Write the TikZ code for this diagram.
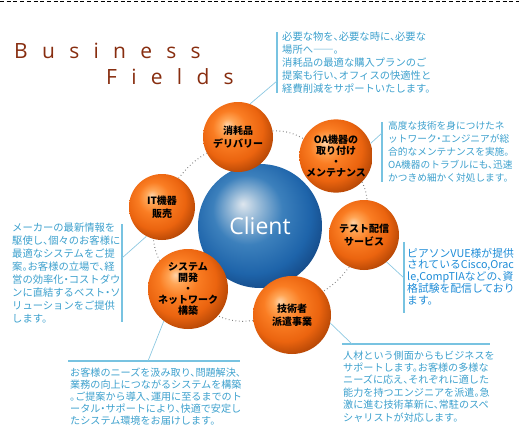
\documentclass[tikz,border=0pt]{standalone}
\usepackage{fontspec}
\usepackage{tikz}
\usetikzlibrary{positioning}
\setmainfont{Open Sans}
\newfontfamily\cjk[CharacterWidth=AlternateHalf]{Noto Sans CJK JP}
\newfontfamily\cjkplain{Noto Sans CJK JP}
\newfontfamily\titlefont[LetterSpace=68]{Open Sans}

\definecolor{titlebrown}{RGB}{135,45,15}
\definecolor{txtblue}{RGB}{60,160,205}
\definecolor{vueblue}{RGB}{30,140,215}
\definecolor{barblue}{RGB}{120,195,225}
\definecolor{leadblue}{RGB}{140,200,225}
\definecolor{orhi}{RGB}{255,210,165}
\definecolor{orlt}{RGB}{255,165,85}
\definecolor{ormain}{RGB}{250,125,35}
\definecolor{ormid}{RGB}{235,100,15}
\definecolor{ordk}{RGB}{180,70,5}
\definecolor{ordeep}{RGB}{110,40,5}
\definecolor{blhi}{RGB}{222,230,238}
\definecolor{bllt}{RGB}{150,185,215}
\definecolor{blmain}{RGB}{60,128,188}
\definecolor{blmid}{RGB}{30,100,170}
\definecolor{bldk}{RGB}{20,70,130}
\definecolor{bldeep}{RGB}{10,45,95}

\pgfdeclareradialshading{orangeball}{\pgfpoint{-8bp}{9bp}}{color(0bp)=(orhi); color(5bp)=(orlt); color(12bp)=(ormain); color(22bp)=(ormid); color(30bp)=(ordk); color(37bp)=(ordeep); color(50bp)=(ordeep)}
\pgfdeclareradialshading{blueball}{\pgfpoint{-7bp}{9bp}}{color(0bp)=(blhi); color(6bp)=(bllt); color(14bp)=(blmain); color(24bp)=(blmid); color(31bp)=(bldk); color(37bp)=(bldeep); color(50bp)=(bldeep)}

\begin{document}
\begin{tikzpicture}[x=1pt,y=-1pt]

        % Define block styles
        \tikzstyle{ball} = [circle, shade, shading=orangeball, inner sep=0pt, align=center, font=\fontsize{10}{13}\cjkplain\bfseries]
        \tikzstyle{client} = [circle, shade, shading=blueball, inner sep=0pt, minimum size=124pt, text=white, font=\fontsize{23}{23}\selectfont]
        \tikzstyle{desc} = [anchor=north west, inner sep=0pt, align=left, text=txtblue, font=\fontsize{10.3}{13}\cjk]
        \tikzstyle{bar} = [draw=barblue, line width=2pt]
        \tikzstyle{leader} = [draw=leadblue, line width=0.7pt]
        \tikzstyle{ring} = [draw=gray, line width=1pt, dash pattern=on 0.8pt off 2.6pt]

        \useasboundingbox (0,0) rectangle (519,439);
        \draw [dash pattern=on 4pt off 2.7pt, line width=0.9pt] (0,1) -- (519,1);

        % Title
        \node (business) [anchor=base west, inner sep=0pt, text=titlebrown, font=\fontsize{21}{21}\titlefont] at (14,58) {Business};
        \node (fields) [anchor=base west, inner sep=0pt, text=titlebrown, font=\fontsize{21}{21}\titlefont] at (106,84) {Fields};

        % Components
        \node (client) [client] at (260,226) {Client};
        \node (deli) [ball, minimum size=70pt] at (238,137) {消耗品\\デリバリー};
        \node (oa) [ball, minimum size=70pt, font=\fontsize{10}{11}\cjkplain\bfseries] at (336,156) {OA機器の\\取り付け\\・\\メンテナンス};
        \node (test) [ball, minimum size=70pt] at (364,235) {テスト配信\\サービス};
        \node (haken) [ball, minimum size=78pt] at (292,315) {技術者\\派遣事業};
        \node (sys) [ball, minimum size=78pt, font=\fontsize{10}{11}\cjkplain\bfseries] at (188,289) {システム\\開発\\・\\ネットワーク\\構築};
        \node (it) [ball, minimum size=66pt] at (162,207) {IT機器\\販売};

        % Ring
        \draw [ring] (deli.10) to[bend left=15] (oa.152);
        \draw [ring] (oa.-45) to[bend left=10] (test.85);
        \draw [ring] (test.-115) to[bend left=10] (haken.37);
        \draw [ring] (haken.188) to[bend left=15] (sys.-42);
        \draw [ring] (sys.135) to[bend left=10] (it.-105);
        \draw [ring] (it.60) to[bend left=10] (deli.207);

        % Texts
        \node (t1) [desc] at (282,31.4) {必要な物を、必要な時に、必要な\\場所へ――。\\消耗品の最適な購入プランのご\\提案も行い、オフィスの快適性と\\経費削減をサポートいたします。};
        \node (t2) [desc, font=\fontsize{9.7}{13}\cjk] at (388,121.6) {高度な技術を身につけたネ\\ットワーク・エンジニアが総\\合的なメンテナンスを実施。\\OA機器のトラブルにも、迅速\\かつきめ細かく対処します。};
        \node (t3) [desc, text=vueblue, font=\fontsize{10.8}{11.4}\cjk] at (407,248) {ピアソンVUE様が提供\\されているCisco,Orac\\le,CompTIAなどの、資\\格試験を配信しており\\ます。};
        \node (t4) [desc, font=\fontsize{10.3}{13.1}\cjk] at (12,222.4) {メーカーの最新情報を\\駆使し、個々のお客様に\\最適なシステムをご提\\案。お客様の立場で、経\\営の効率化・コストダウ\\ンに直結するベスト・ソ\\リューションをご提供\\します。};
        \node (t5) [desc, font=\fontsize{10.1}{12}\cjk] at (70,367.4) {お客様のニーズを汲み取り、問題解決、\\業務の向上につながるシステムを構築\\。ご提案から導入、運用に至るまでのト\\ータル・サポートにより、快適で安定し\\たシステム環境をお届けします。};
        \node (t6) [desc, font=\fontsize{10.1}{12.4}\cjk] at (343,350.4) {人材という側面からもビジネスを\\サポートします。お客様の多様な\\ニーズに応え、それぞれに適した\\能力を持つエンジニアを派遣。急\\激に進む技術革新に、常駐のスペ\\シャリストが対応します。};

        % Bars
        \coordinate (t1a) at (277,32);  \coordinate (t1b) at (277,93);  \coordinate (t1p) at (277,81);
        \coordinate (t2a) at (382,122); \coordinate (t2b) at (382,182); \coordinate (t2p) at (382,133);
        \coordinate (t3a) at (404,242); \coordinate (t3b) at (404,313); \coordinate (t3p) at (404,278);
        \coordinate (t4a) at (122,224); \coordinate (t4b) at (122,322); \coordinate (t4p) at (122,258);
        \coordinate (t5a) at (68,361);  \coordinate (t5b) at (240,361); \coordinate (t5p) at (148,361);
        \coordinate (t6a) at (342,344); \coordinate (t6b) at (490,344); \coordinate (t6p) at (352,344);
        \draw [bar] (t1a) -- (t1b);
        \draw [bar] (t2a) -- (t2b);
        \draw [bar] (t3a) -- (t3b);
        \draw [bar] (t4a) -- (t4b);
        \draw [bar] (t5a) -- (t5b);
        \draw [bar] (t6a) -- (t6b);

        % Leaders
        \draw [leader] (deli.70) -- (t1p);
        \draw [leader] (oa.20) -- (t2p);
        \draw [leader] (test.-50) -- (t3p);
        \draw [leader] (it.-118) -- (t4p);
        \draw [leader] (sys.-127) -- (t5p);
        \draw [leader] (haken.-12) -- (t6p);

\end{tikzpicture}
\end{document}
